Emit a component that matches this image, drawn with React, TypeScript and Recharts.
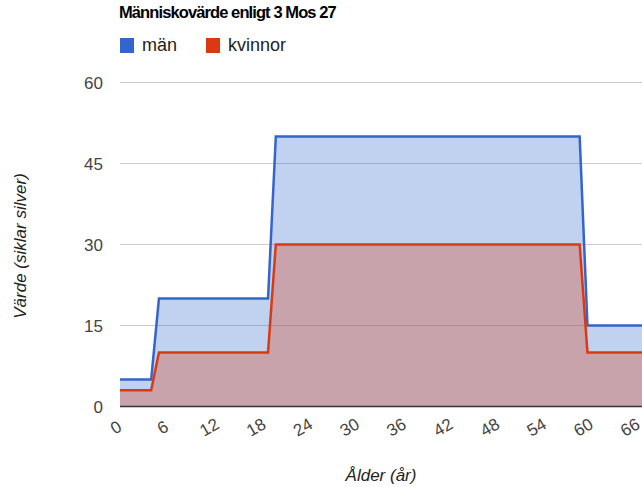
import React from "react";
import {
  AreaChart,
  Area,
  XAxis,
  YAxis,
  CartesianGrid,
  ReferenceLine,
} from "recharts";

const ages = [0, 4, 5, 19, 20, 59, 60, 67];
const manValues = [5, 5, 20, 20, 50, 50, 15, 15];
const womanValues = [3, 3, 10, 10, 30, 30, 10, 10];
const xTicks = [0, 6, 12, 18, 24, 30, 36, 42, 48, 54, 60, 66];
const yTicks = [0, 15, 30, 45, 60];
const seriesNames = ["män", "kvinnor"];
const seriesColors = ["#3366cc", "#dc3912"];

const chartData = ages.map((age, i) => ({
  age,
  man: manValues[i],
  woman: womanValues[i],
}));

const FONT = "'Liberation Sans', Arial, sans-serif";

const SlantTick = (props: any) => {
  const { x, payload } = props;
  const cx = x - 4;
  const cy = 427.5;
  return (
    <text
      x={cx}
      y={cy}
      textAnchor="middle"
      dominantBaseline="central"
      fontSize={17}
      fontFamily={FONT}
      fill="#444"
      transform={`rotate(-30 ${cx} ${cy})`}
    >
      {payload.value}
    </text>
  );
};

const App = () => {
  return (
    <div
      style={{
        position: "absolute",
        left: 0,
        top: 0,
        width: 642,
        height: 487,
        overflow: "hidden",
        fontFamily: FONT,
        background: "#fff",
      }}
    >
      {/* title + legend */}
      <div
        style={{
          position: "absolute",
          left: 119,
          top: 3,
          fontSize: 16.5,
          fontWeight: "bold",
          letterSpacing: -0.9,
          color: "#000",
        }}
      >
        Människovärde enligt 3 Mos 27
      </div>
      <div style={{ position: "absolute", left: 120, top: 35, display: "flex" }}>
        {seriesNames.map((name, i) => (
          <div
            key={name}
            style={{ display: "flex", alignItems: "center", marginRight: 29 }}
          >
            <span
              style={{
                width: 14,
                height: 15,
                background: seriesColors[i],
                display: "inline-block",
                marginRight: 8,
              }}
            />
            <span style={{ fontSize: 18, color: "#222" }}>{name}</span>
          </div>
        ))}
      </div>

      <AreaChart
        width={642}
        height={487}
        data={chartData}
        margin={{ top: 82.5, right: 0, left: 0, bottom: 0.5 }}
      >
        <CartesianGrid vertical={false} stroke="#cccccc" />
        <XAxis
          dataKey="age"
          type="number"
          domain={[0, 67]}
          ticks={xTicks}
          tick={<SlantTick />}
          tickLine={false}
          axisLine={false}
          height={80}
          interval={0}
          allowDataOverflow
        />
        <YAxis
          type="number"
          domain={[0, 60]}
          ticks={yTicks}
          width={120}
          tickSize={0}
          tickMargin={17}
          tickLine={false}
          axisLine={false}
          tick={{ fontSize: 17, fill: "#444", fontFamily: FONT }}
        />
        <Area
          type="linear"
          dataKey="man"
          name={seriesNames[0]}
          stroke={seriesColors[0]}
          strokeWidth={2.5}
          fill={seriesColors[0]}
          fillOpacity={0.3}
          isAnimationActive={false}
        />
        <Area
          type="linear"
          dataKey="woman"
          name={seriesNames[1]}
          stroke={seriesColors[1]}
          strokeWidth={2.5}
          fill={seriesColors[1]}
          fillOpacity={0.3}
          isAnimationActive={false}
        />
        <ReferenceLine y={0} stroke="#333" strokeWidth={1.5} />
        <text
          x={20}
          y={246}
          textAnchor="middle"
          dominantBaseline="central"
          fontSize={17}
          fontStyle="italic"
          fontFamily={FONT}
          fill="#222"
          transform="rotate(-90 20 246)"
        >
          Värde (siklar silver)
        </text>
        <text
          x={381}
          y={475}
          textAnchor="middle"
          dominantBaseline="central"
          fontSize={17}
          fontStyle="italic"
          fontFamily={FONT}
          fill="#222"
        >
          Ålder (år)
        </text>
      </AreaChart>
    </div>
  );
};

export default App;
